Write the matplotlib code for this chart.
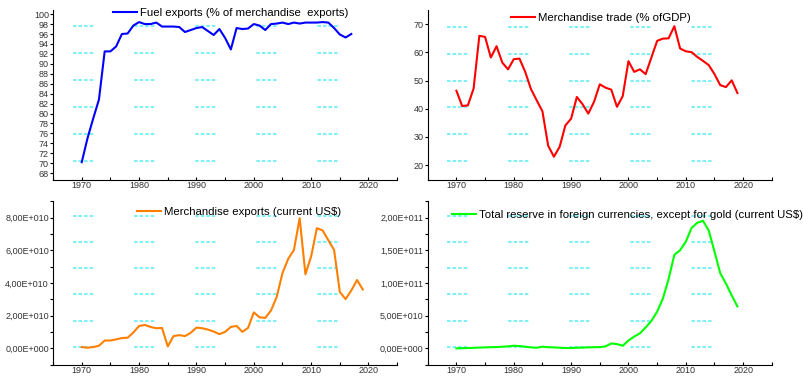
import numpy as np
import matplotlib.pyplot as plt
from matplotlib.ticker import MultipleLocator, FuncFormatter

plt.rcParams['font.family'] = ['Liberation Sans', 'DejaVu Sans']
plt.rcParams['lines.scale_dashes'] = False

# fuel exports (% of merchandise exports), 1970-2017
fuel_years = np.arange(1970, 2018)
fuel = [70.2, 75.0, 79.0, 82.8, 92.5, 92.5, 93.5, 96.0, 96.1, 97.7,
        98.4, 98.0, 98.0, 98.3, 97.5, 97.5, 97.5, 97.4, 96.4, 96.8,
        97.2, 97.4, 96.6, 95.8, 97.0, 95.2, 92.9, 97.2, 97.0, 97.1,
        98.0, 97.7, 96.8, 98.0, 98.1, 98.3, 98.0, 98.3, 98.1, 98.3,
        98.3, 98.3, 98.4, 98.3, 97.2, 95.9, 95.3, 96.0]

# merchandise trade (% of GDP), 1970-2019
trade_years = np.arange(1970, 2020)
trade = [46.4, 41.0, 41.2, 47.2, 65.9, 65.5, 58.2, 62.2, 56.4, 54.0,
         57.6, 57.8, 53.1, 47.0, 43.0, 39.1, 26.9, 23.0, 26.5, 34.1,
         36.5, 44.2, 41.6, 38.3, 42.5, 48.7, 47.5, 46.8, 40.7, 44.5,
         56.9, 53.1, 54.0, 52.3, 58.2, 64.1, 64.9, 65.0, 69.3, 61.4,
         60.4, 60.1, 58.4, 57.0, 55.5, 52.3, 48.4, 47.7, 50.1, 45.6]

# merchandise exports (current US$, x1e10), 1970-2019
exp_years = np.arange(1970, 2020)
exports = [0.08, 0.04, 0.08, 0.16, 0.48, 0.48, 0.55, 0.63, 0.65, 0.97,
           1.37, 1.43, 1.31, 1.23, 1.25, 0.12, 0.75, 0.81, 0.75, 0.95,
           1.27, 1.23, 1.15, 1.03, 0.87, 1.01, 1.31, 1.37, 1.01, 1.25,
           2.20, 1.90, 1.86, 2.32, 3.15, 4.60, 5.47, 6.02, 7.96, 4.53,
           5.62, 7.35, 7.21, 6.61, 6.02, 3.45, 3.01, 3.54, 4.18, 3.60]

# total reserves except gold (current US$, x1e11), 1970-2019
res_years = np.arange(1970, 2020)
reserves = [0.0, 0.003, 0.005, 0.008, 0.012, 0.015, 0.018, 0.02, 0.025, 0.03,
            0.04, 0.035, 0.025, 0.015, 0.01, 0.025, 0.018, 0.015, 0.01, 0.006,
            0.005, 0.01, 0.012, 0.015, 0.018, 0.02, 0.03, 0.075, 0.065, 0.04,
            0.12, 0.18, 0.23, 0.32, 0.42, 0.56, 0.76, 1.06, 1.43, 1.50,
            1.63, 1.84, 1.92, 1.95, 1.80, 1.48, 1.15, 0.99, 0.81, 0.64]


def sci_comma(v, pos):
    if v == 0:
        return '0,00E+000'
    e = int(np.floor(np.log10(abs(v))))
    m = v / 10 ** e
    return ('%.2f' % m).replace('.', ',') + 'E+%03d' % e


fig = plt.figure(figsize=(8.04, 3.76), dpi=100)
ax1 = fig.add_axes([0.066, 0.521, 0.428, 0.452])
ax2 = fig.add_axes([0.532, 0.521, 0.428, 0.452])
ax3 = fig.add_axes([0.066, 0.03, 0.428, 0.435])
ax4 = fig.add_axes([0.532, 0.03, 0.428, 0.435])

grid_dash = (0, (2.5, 1.5, 2.5, 1.5, 2.5, 1.5, 2.5, 29.5))

panels = [
    (ax1, fuel_years, np.array(fuel), '#0000ff', 'Fuel exports (% of merchandise  exports)',
     (66.6, 100.8), 70.4 + 5.45 * np.arange(6), (0.16, 1.04)),
    (ax2, trade_years, np.array(trade), '#ff0000', 'Merchandise trade (% ofGDP)',
     (14.7, 75.0), 21.5 + 9.51 * np.arange(6), (0.228, 1.012)),
    (ax3, exp_years, np.array(exports) * 1e10, '#ff8000', 'Merchandise exports (current US$)',
     (-1.0e10, 9.0e10), (0.1 + 1.6 * np.arange(6)) * 1e10, (0.231, 0.99)),
    (ax4, res_years, np.array(reserves) * 1e11, '#00ff00',
     'Total reserve in foreign currencies, except for gold (current US$)',
     (-0.25e11, 2.25e11), (0.025 + 0.4 * np.arange(6)) * 1e11, (0.057, 0.976)),
]

for ax, x, y, col, lab, ylim, gy, lpos in panels:
    ax.hlines(gy, 1968.4, 2015.0, colors='#7ff0f5', linewidth=1.5, linestyles=[grid_dash])
    ax.plot(x, y, color=col, linewidth=1.5, label=lab)
    ax.set_xlim(1965, 2025)
    ax.set_ylim(*ylim)
    for s in ['top', 'right']:
        ax.spines[s].set_visible(False)
    ax.spines['left'].set_linewidth(0.8)
    ax.spines['bottom'].set_linewidth(0.8)
    ax.xaxis.set_major_locator(MultipleLocator(10))
    ax.xaxis.set_minor_locator(MultipleLocator(5))
    ax.tick_params(axis='x', which='both', direction='in', length=2, width=0.8,
                   labelsize=6.5, pad=1, labelcolor='#333333')
    ax.tick_params(axis='y', which='both', direction='out', length=2.5, width=0.8,
                   labelsize=6.5, pad=0.5, labelcolor='#333333')
    ax.legend(loc='upper left', bbox_to_anchor=lpos, frameon=False, fontsize=8.2,
              handlelength=2.1, handletextpad=0.3, borderaxespad=0)

ax1.yaxis.set_major_locator(MultipleLocator(2))
ax2.yaxis.set_major_locator(MultipleLocator(10))
ax3.yaxis.set_major_locator(MultipleLocator(2e10))
ax3.yaxis.set_minor_locator(MultipleLocator(1e10))
ax4.yaxis.set_major_locator(MultipleLocator(0.5e11))
ax4.yaxis.set_minor_locator(MultipleLocator(0.25e11))
ax3.yaxis.set_major_formatter(FuncFormatter(sci_comma))
ax4.yaxis.set_major_formatter(FuncFormatter(sci_comma))
ax3.yaxis.get_offset_text().set_visible(False)
ax4.yaxis.get_offset_text().set_visible(False)

fig.savefig('out.png', dpi=100)
